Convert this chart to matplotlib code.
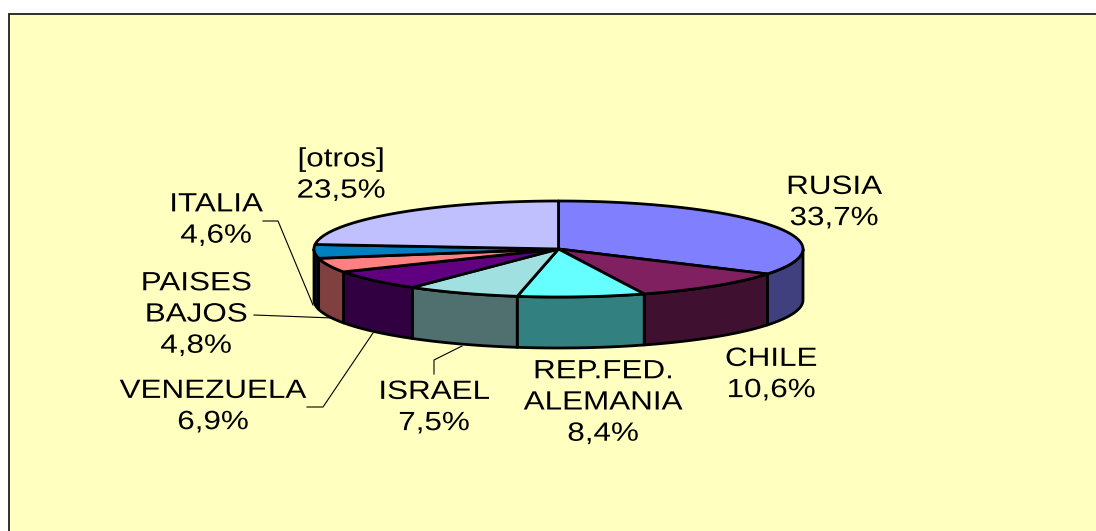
import matplotlib
matplotlib.use('Agg')
import matplotlib.pyplot as plt
import matplotlib.patheffects as pe
from matplotlib.patches import Polygon, Rectangle
from matplotlib.transforms import Affine2D
import numpy as np

plt.rcParams['font.family'] = ['Liberation Sans', 'DejaVu Sans']

# Chart data, clockwise from the top of the pie
countries = ['RUSIA', 'CHILE', 'REP.FED.\nALEMANIA', 'ISRAEL', 'VENEZUELA', 'PAISES\nBAJOS', 'ITALIA', '[otros]']
shares = [33.7, 10.6, 8.4, 7.5, 6.9, 4.8, 4.6, 23.5]

top_colors = ['#8080FF', '#802060', '#66FFFF', '#A0E0E0', '#600080', '#FF8080', '#0080C0', '#C0C0FF']
side_colors = ['#40407F', '#401030', '#338080', '#507070', '#300040', '#804040', '#001020', '#60607F']

# Label centres in pixels
label_x = [834, 771, 603, 434, 213, 196, 216, 341]
label_y = [202.5, 374.5, 402.5, 407.5, 406.5, 314.5, 220, 175]

# Pie shape in pixels
cx, cy = 558.5, 249
rx, ry = 244.5, 48
depth = 51
text_stretch = 1.19


class StretchText(pe.AbstractPathEffect):
    # The reference text is wider than any installed font, stretch each line around its middle
    def __init__(self, sx):
        super().__init__()
        self.sx = sx

    def draw_path(self, renderer, gc, tpath, affine, rgbFace=None):
        mid = (tpath.vertices[:, 0].min() + tpath.vertices[:, 0].max()) / 2
        stretch = Affine2D().translate(-mid, 0).scale(self.sx, 1).translate(mid, 0)
        renderer.draw_path(gc, tpath, stretch + affine, rgbFace)


def rim(a0, a1, n=60):
    # Points on the top ellipse, angles in degrees clockwise from the top
    t = np.radians(np.linspace(a0, a1, n))
    return cx + rx * np.sin(t), cy - ry * np.cos(t)


def draw_side(ax, a0, a1, color):
    # Only the front half of the cylinder can be seen
    a0, a1 = max(a0, 90), min(a1, 270)
    if a1 <= a0:
        return
    x, y = rim(a0, a1)
    pts = np.column_stack([np.r_[x, x[::-1]], np.r_[y, y[::-1] + depth]])
    ax.add_patch(Polygon(pts, facecolor=color, edgecolor='black', lw=2, joinstyle='round'))


def draw_top(ax, a0, a1, color):
    x, y = rim(a0, a1)
    pts = np.column_stack([np.r_[cx, x], np.r_[cy, y]])
    ax.add_patch(Polygon(pts, facecolor=color, edgecolor='black', lw=2, joinstyle='round'))


fig = plt.figure(figsize=(10.96, 5.31), dpi=100)
ax = fig.add_axes([0, 0, 1, 1])
ax.set_xlim(0, 1096)
ax.set_ylim(531, 0)
ax.axis('off')

# Yellow chart area, its right and bottom edges fall off the picture
ax.add_patch(Rectangle((8.5, 13.5), 1100, 530, facecolor='#FFFFC0', edgecolor='#202020', lw=1.3))

edges = np.r_[0, np.cumsum(shares)] / sum(shares) * 360

for i in range(len(shares)):
    draw_side(ax, edges[i], edges[i + 1], side_colors[i])
for i in range(len(shares)):
    draw_top(ax, edges[i], edges[i + 1], top_colors[i])

# Leader lines
ax.plot([263, 278, 313], [221, 221, 305], color='black', lw=0.8)
ax.plot([254, 333], [315, 318], color='black', lw=0.8)
ax.plot([307, 323, 373], [407, 407, 333], color='black', lw=0.8)
ax.plot([434, 434, 462], [374, 360, 346], color='black', lw=0.8)

for name, share, x, y in zip(countries, shares, label_x, label_y):
    pct = f'{share:.1f}%'.replace('.', ',')
    ax.text(x, y, name + '\n' + pct, ha='center', va='center', ma='center',
            fontsize=19, color='black', linespacing=1.38,
            path_effects=[StretchText(text_stretch)])

fig.savefig('out.png', dpi=100)
